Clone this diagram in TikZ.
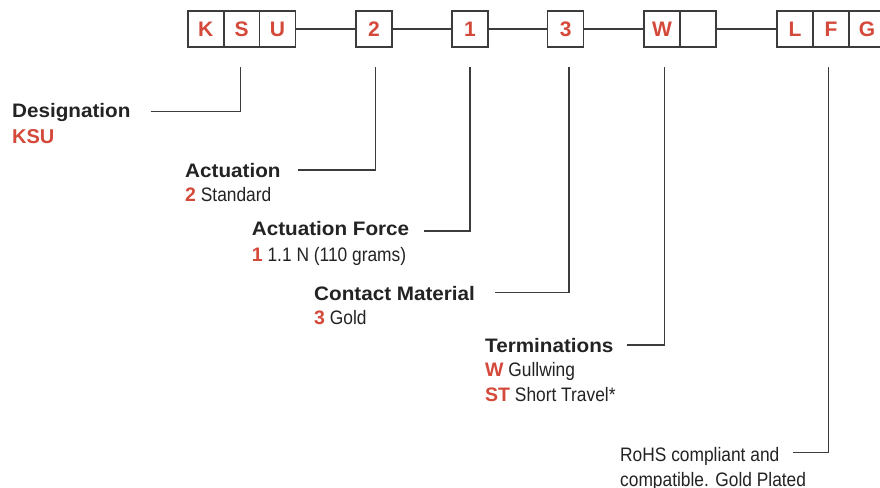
\documentclass[tikz,border=0pt]{standalone}
\usepackage{fontspec}
\setmainfont{Liberation Sans}
\newfontfamily\hdfont{Liberation Sans}[FakeStretch=1.06]
\newfontfamily\cdfont{Liberation Sans}[FakeStretch=0.89]
\definecolor{kred}{RGB}{212,73,58}
\definecolor{ink}{RGB}{35,35,35}
\definecolor{rulec}{RGB}{60,60,60}
\newcommand\rb[1]{{\normalfont\bfseries\color{kred}#1}}
\begin{document}
\begin{tikzpicture}[x=1pt,y=-1pt,
  cell/.style={draw=rulec, line width=1.5pt, minimum width=36pt, minimum height=36pt, inner sep=0pt, font=\fontsize{21}{21}\selectfont\bfseries, text=kred},
  head/.style={anchor=base west, inner sep=0pt, font=\hdfont\fontsize{19.5}{20}\selectfont\bfseries, text=ink},
  body/.style={anchor=base west, inner sep=0pt, font=\cdfont\fontsize{19.5}{20}\selectfont, text=ink},
  lead/.style={draw=rulec, line width=1.2pt},
]
\useasboundingbox[fill=white] (0,0) rectangle (880,487);
% boxes
\node[cell] (bK) at (205.8,29) {K};
\node[cell] (bS) at (241.7,29) {S};
\node[cell] (bU) at (277.5,29) {U};
\node[cell] (b2) at (374,29) {2};
\node[cell] (b1) at (470,29) {1};
\node[cell] (b3) at (565.7,29) {3};
\node[cell] (bW) at (662,29) {W};
\node[cell] (bE) at (698,29) {};
\node[cell] (bL) at (795,29) {L};
\node[cell] (bF) at (831,29) {F};
\node[cell] (bG) at (867,29) {G};
% connectors between groups
\draw[lead] (bU.east) -- (b2.west);
\draw[lead] (b2.east) -- (b1.west);
\draw[lead] (b1.east) -- (b3.west);
\draw[lead] (b3.east) -- (bW.west);
\draw[lead] (bE.east) -- (bL.west);
% labels
\node[head] (hDes) at (12,117.7) {Designation};
\node[anchor=base west, inner sep=0pt, font=\fontsize{20}{20}\selectfont\bfseries, text=kred] (vDes) at (12,143.3) {KSU};
\node[head] (hAct) at (185,177.3) {Actuation};
\node[body] (vAct) at (185,201.7) {\rb{2} Standard};
\node[head] (hFor) at (251.7,235.7) {Actuation Force};
\node[body] (vFor) at (251.7,261.7) {\rb{1} 1.1 N (110 grams)};
\node[head] (hCon) at (314,300) {Contact Material};
\node[body] (vCon) at (314,324) {\rb{3} Gold};
\node[head] (hTer) at (485,352.7) {Terminations};
\node[body] (vTer1) at (485,376.7) {\rb{W} Gullwing};
\node[body] (vTer2) at (485,401.7) {\rb{ST} Short Travel*};
\node[body] (vRo1) at (620,461.7) {RoHS compliant and};
\node[body] (vRo2) at (620,486) {compatible. Gold Plated};
% leader coordinates
\coordinate (sDes) at (150.7,111.7);
\coordinate (tDes) at (240.7,66.7);
\coordinate (sAct) at (298,170);
\coordinate (tAct) at (375.5,66.7);
\coordinate (sFor) at (424.3,231);
\coordinate (tFor) at (470,66.7);
\coordinate (sCon) at (495,292.3);
\coordinate (tCon) at (569,66.7);
\coordinate (sTer) at (626.7,345);
\coordinate (tTer) at (664.3,66.7);
\coordinate (sRo) at (792.7,452.3);
\coordinate (tRo) at (828.5,66.7);
\draw[lead] (sDes) -| (tDes);
\draw[lead] (sAct) -| (tAct);
\draw[lead] (sFor) -| (tFor);
\draw[lead] (sCon) -| (tCon);
\draw[lead] (sTer) -| (tTer);
\draw[lead] (sRo) -| (tRo);
\end{tikzpicture}
\end{document}
